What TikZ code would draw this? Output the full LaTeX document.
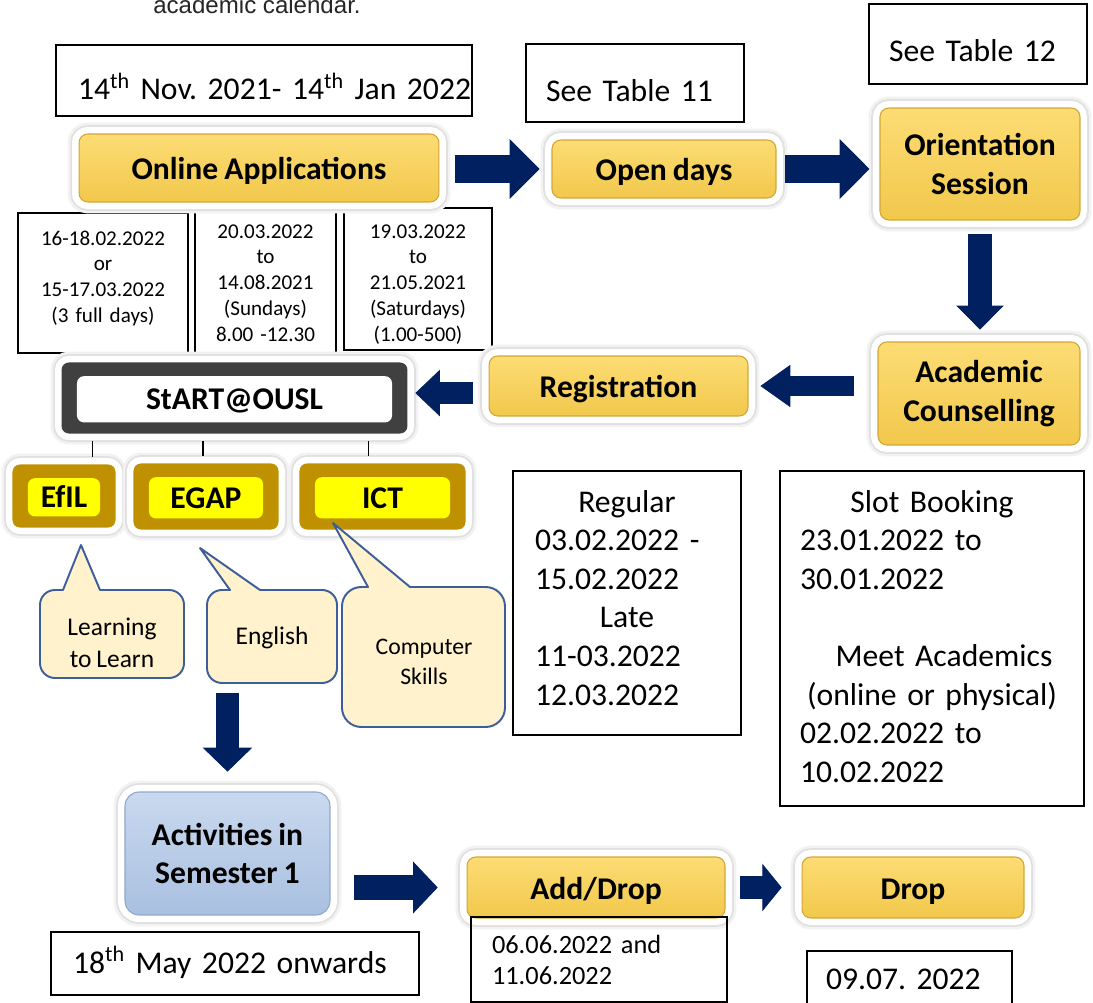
\documentclass[tikz,border=0pt]{standalone}
\usepackage{fontspec}
\setmainfont{Carlito}[WordSpace=0.85]
\newfontfamily\arialfont{Liberation Sans}
\usetikzlibrary{arrows.meta}
\definecolor{custom-gold-top}{HTML}{FCDC74}
\definecolor{custom-gold-bottom}{HTML}{F2C84C}
\definecolor{custom-gold-edge}{HTML}{D3A632}
\definecolor{custom-sky-top}{HTML}{C9D9EF}
\definecolor{custom-sky-bottom}{HTML}{A9C0E0}
\definecolor{custom-sky-edge}{HTML}{8EA7CB}
\definecolor{custom-darkgold}{HTML}{BF9000}
\definecolor{custom-yellow}{HTML}{FFFF00}
\definecolor{custom-grey}{HTML}{404040}
\definecolor{custom-navy}{HTML}{002060}
\definecolor{custom-cream}{HTML}{FFF2CC}
\definecolor{custom-line}{HTML}{3D5E98}
\frenchspacing

\begin{document}
\begin{tikzpicture}[x=0.02cm, y=-0.02cm,
    halo/.style={preaction={draw=black!5, line width=13pt},
                 preaction={draw=black!12, line width=10pt},
                 preaction={draw=white, line width=8pt}},
    stepbox/.style={halo, rounded corners=5pt, top color=custom-gold-top,
                    bottom color=custom-gold-bottom, draw=custom-gold-edge,
                    line width=.6pt, align=center,
                    font=\bfseries\fontsize{18}{22}\selectfont},
    framed/.style 2 args={halo, rounded corners=4pt, fill=#1, draw=#1,
                    line width=.6pt, font=\bfseries\fontsize{18}{22}\selectfont,
                    path picture={\fill[#2] ([shift={(8.5pt,-7.5pt)}]path picture bounding box.north west)
                      rectangle ([shift={(-8.5pt,6pt)}]path picture bounding box.south east);}},
    oneline/.style={text height=16pt, text depth=2.4pt},
    datebox/.style={draw, line width=1pt, inner ysep=0pt, align=left,
                    font=\fontsize{18}{22}\selectfont},
    smallbox/.style={draw, line width=1pt, inner sep=0pt, align=center,
                    font=\fontsize{12}{14.7}\selectfont},
    flow/.style n args={3}{draw=custom-navy, line width=#1,
                    -{Triangle[length=#2, width=#3, line width=.5pt]}},
    link/.style={draw=black, line width=.6pt, shorten <=4.5pt, shorten >=4pt},
    bubble/.style={draw=custom-line, fill=custom-cream, line width=1.1pt, line join=round},
    bubbletext/.style={align=center, font=\fontsize{14.5}{18.5}\selectfont}]

\path[fill=white, use as bounding box] (0,0) rectangle (1093,1003);

% caption line cut at the top
\node[anchor=base, text=black!85, font=\arialfont\fontsize{13.7}{16}\selectfont] (cal) at (257,14) {academic calendar.};

% date boxes (drawn first, halos lie over them)
\node[datebox, text width=7.44cm, inner xsep=.44cm, text height=1.1cm, text depth=.32cm] (d-apply) at (264,80.5)
  {\mbox{14\textsuperscript{th} Nov. 2021- 14\textsuperscript{th} Jan 2022}};
\node[datebox, text width=3.56cm, inner xsep=.4cm, text height=1.16cm, text depth=.4cm] (d-open) at (635,83) {\mbox{See Table 11}};
\node[datebox, text width=3.56cm, inner xsep=.4cm, text height=1.16cm, text depth=.44cm] (d-orient) at (978,44) {\mbox{See Table 12}};
\node[smallbox, text width=3.4cm, text height=.64cm, text depth=2.16cm] (d-full) at (103,283)
  {16-18.02.2022\\ or\\ 15-17.03.2022\\ (3 full days)};
\node[smallbox, text width=2.82cm, text height=.7cm, text depth=2.3cm] (d-sun) at (265.5,278)
  {20.03.2022\\ to\\ 14.08.2021\\ (Sundays)\\ 8.00 -12.30};
\node[smallbox, text width=2.96cm, text height=.6cm, text depth=2.24cm] (d-sat) at (418,279)
  {19.03.2022\\ to\\ 21.05.2021\\ (Saturdays)\\ (1.00-500)};
\node[datebox, text width=3.68cm, inner xsep=.44cm, text height=.82cm, text depth=4.46cm] (d-reg) at (627,603)
  {\hfill Regular\hfill\mbox{}\\ 03.02.2022 -\\ 15.02.2022\\ \hfill Late\hfill\mbox{}\\ 11-03.2022\\ 12.03.2022};
\node[datebox, text width=5.28cm, inner xsep=.4cm, text height=.82cm, text depth=5.88cm] (d-slot) at (932,638.5)
  {\hfill Slot Booking\hfill\mbox{}\\ 23.01.2022 to\\ 30.01.2022\\ \mbox{}\\
   \hfill\hspace*{.48cm}Meet Academics\hfill\mbox{}\\ \hfill(online or physical)\hfill\mbox{}\\
   02.02.2022 to\\ 10.02.2022};
\node[datebox, text width=6.48cm, inner xsep=.44cm, text height=.82cm, text depth=.44cm] (d-sem) at (235,963.5)
  {\mbox{18\textsuperscript{th} May 2022 onwards}};

% steps
\node[stepbox, oneline, minimum width=7.2cm, minimum height=1.36cm] (oa) at (259,168) {Online Applications};
\node[stepbox, oneline, minimum width=4.48cm, minimum height=1.16cm] (od) at (664,169) {Open days};
\node[stepbox, minimum width=4cm, minimum height=2.24cm] (os) at (980,164) {Orientation\\Session};
\node[stepbox, minimum width=4.04cm, minimum height=2.06cm] (ac) at (979,393.5) {Academic\\Counselling};
\node[stepbox, oneline, minimum width=5.18cm, minimum height=1.2cm] (reg) at (618.5,386) {Registration};
\node[framed={custom-grey}{white}, oneline, minimum width=6.9cm, minimum height=1.4cm] (start) at (234.5,398) {StART@OUSL};
\node[framed={custom-darkgold}{custom-yellow}, oneline, minimum width=2.04cm, minimum height=1.24cm] (efil) at (64,496) {EfIL};
\node[framed={custom-darkgold}{custom-yellow}, oneline, minimum width=2.88cm, minimum height=1.3cm] (egap) at (206,496.5) {EGAP};
\node[framed={custom-darkgold}{custom-yellow}, oneline, minimum width=3.3cm, minimum height=1.3cm] (ict) at (382.5,496.5) {ICT};
\node[stepbox, rounded corners=8pt, top color=custom-sky-top, bottom color=custom-sky-bottom, draw=custom-sky-edge,
      minimum width=4.1cm, minimum height=2.46cm] (act) at (227.5,853.5) {Activities in\\Semester 1};
\node[stepbox, oneline, minimum width=5.16cm, minimum height=1.22cm] (ad) at (596,887.5) {Add/Drop};
\node[stepbox, oneline, minimum width=4.44cm, minimum height=1.22cm] (drop) at (913,887.5) {Drop};

\node[datebox, font=\fontsize{15}{18}\selectfont, text width=4.28cm, inner xsep=.42cm, text height=.72cm, text depth=.98cm]
  (d-add) at (599,959.5) {06.06.2022 and\\ 11.06.2022};
\node[datebox, text width=3.34cm, inner xsep=.38cm, text height=.78cm, text depth=.4cm] (d-drop) at (909.5,980.5) {\mbox{09.07. 2022}};

% links under StART@OUSL
\draw[link] ([xshift=16.4pt]efil.north |- start.south) -- ([xshift=16.4pt]efil.north);
\draw[link] ([xshift=-1.7pt]egap.north |- start.south) -- ([xshift=-1.7pt]egap.north);
\draw[link] ([xshift=-8.2pt]ict.north |- start.south) -- ([xshift=-8.2pt]ict.north);

% block arrows
\coordinate (pad-out) at (229,693);
\draw[flow={16pt}{17pt}{34pt}, shorten <=9pt, shorten >=6.8pt] (oa.east |- od.west) -- (od.west);
\draw[flow={16pt}{17pt}{34pt}, shorten <=5pt, shorten >=5.7pt] (od.east) -- (od.east -| os.west);
\draw[flow={13.6pt}{13.6pt}{27pt}, shorten <=7.4pt, shorten >=6.8pt] (os.south) -- (os.south |- ac.north);
\draw[flow={11.3pt}{17pt}{24pt}, shorten <=13.6pt, shorten >=6.8pt] (ac.west |- reg.east) -- (reg.east);
\draw[flow={13pt}{14pt}{26.6pt}, shorten <=9pt, shorten >=4.5pt] ([yshift=-4pt]reg.west) -- ([yshift=-4pt]reg.west -| start.east);
\draw[flow={13.6pt}{13.6pt}{28pt}, shorten >=11.3pt] (act.north |- pad-out) -- (act.north);
\draw[flow={14pt}{14pt}{29.5pt}, shorten <=13.6pt, shorten >=16.4pt] (act.east |- ad.west) -- (ad.west);
\draw[flow={13pt}{11pt}{27pt}, shorten <=8.5pt, shorten >=11.3pt] (ad.east) -- (drop.west);

% speech bubbles
\draw[bubble] (40,634) [rounded corners=8.5pt] -- (40,590) [sharp corners] -- (63,590) -- (81,545) -- (100,590)
  [rounded corners=8.5pt] -- (184,590) -- (184,678) -- (40,678) -- cycle;
\draw[bubble] (207,636) [rounded corners=8.5pt] -- (207,590) [sharp corners] -- (230,590) -- (200,548) -- (260,590)
  [rounded corners=8.5pt] -- (337,590) -- (337,683) -- (207,683) -- cycle;
\draw[bubble] (342,657) [rounded corners=11pt] -- (342,587) [sharp corners] -- (368,587) -- (333,523) -- (410,587)
  [rounded corners=11pt] -- (505,587) -- (505,727) -- (342,727) -- cycle;
\node[bubbletext] (l2l) at (112,643) {Learning\\to Learn};
\node[bubbletext] (eng) at (272,638) {English};
\node[bubbletext, font=\fontsize{13.5}{17}\selectfont] (comp) at (424,662) {Computer\\Skills};

\end{tikzpicture}
\end{document}
